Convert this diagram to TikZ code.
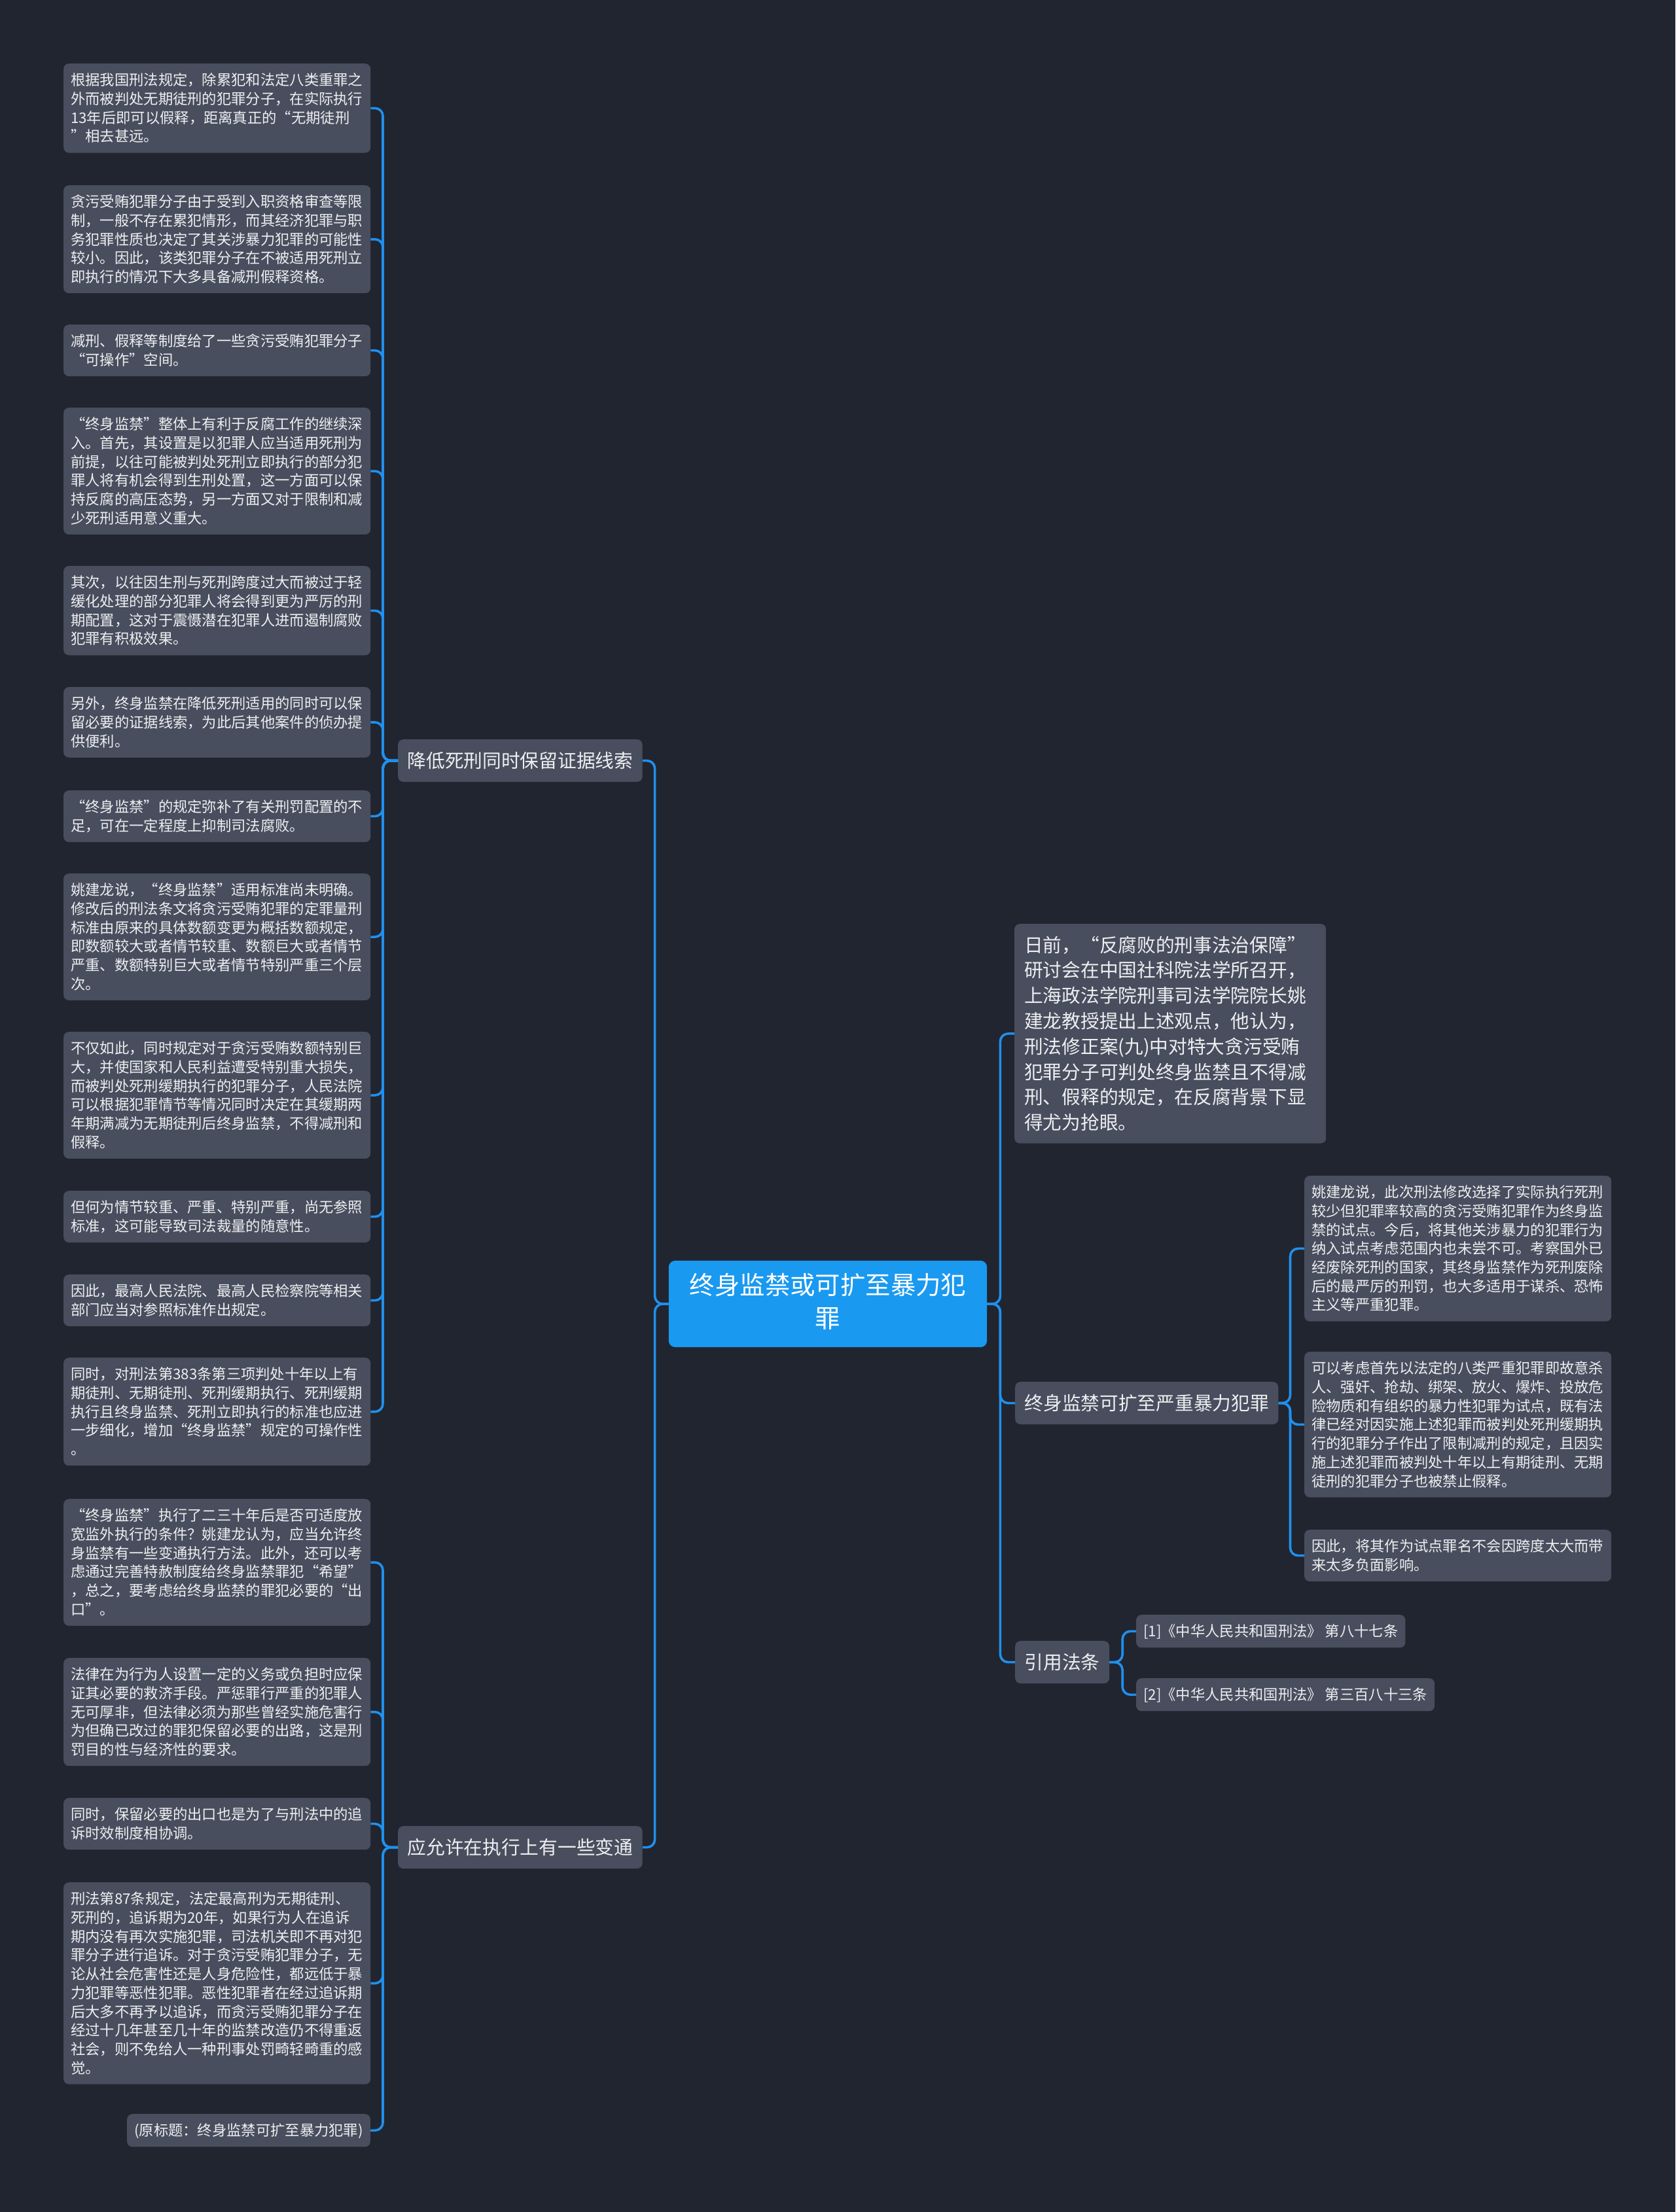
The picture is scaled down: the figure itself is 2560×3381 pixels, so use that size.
\documentclass[tikz,border=0pt]{standalone}
\usepackage{fontspec}
\setmainfont{Noto Sans CJK SC}
\usetikzlibrary{positioning}
\definecolor{bgc}{RGB}{33,37,48}
\definecolor{cardc}{RGB}{72,78,93}
\definecolor{linkc}{RGB}{32,144,236}
\definecolor{rootc}{RGB}{26,153,240}
\definecolor{txtc}{RGB}{238,239,242}
% strut centred on the CJK glyphs
\newcommand{\gstrut}{\rule[\dimexpr0.38em-0.5\baselineskip\relax]{0pt}{\baselineskip}}
\tikzset{
  card/.style={fill=cardc,rounded corners=8pt,text=txtc,align=left,
    font=\fontsize{22.3pt}{28.7pt}\selectfont,inner xsep=11pt,inner ysep=10.75pt,
    execute at begin node=\gstrut,execute at end node=\gstrut},
  leaf/.style={card,anchor=north west,text width=447pt},
  midbox/.style={card,anchor=north west,font=\fontsize{28.7pt}{38.8pt}\selectfont,
    inner xsep=14.5pt,inner ysep=13pt},
  rootbox/.style={fill=rootc,rounded corners=10pt,text=white,align=center,
    font=\fontsize{38.4pt}{51pt}\selectfont,inner xsep=32pt,inner ysep=19pt,
    execute at begin node=\gstrut,execute at end node=\gstrut},
  lnk/.style={draw=linkc,line width=3.6pt,rounded corners=12pt},
}
\begin{document}
\begin{tikzpicture}[x=1pt,y=-1pt]
  \useasboundingbox (0,0) rectangle (2560,3381);
  \fill[bgc] (0,0) rectangle (2560,3381);

  \node[rootbox] (root) at (1265,1993) {终身监禁或可扩至暴力犯\\罪};

  % left branches
  \node[midbox] (m1) at (608,1130) {降低死刑同时保留证据线索};
  \node[midbox] (m2) at (608,2791) {应允许在执行上有一些变通};

  \node[leaf] (l1) at (97,97) {根据我国刑法规定，除累犯和法定八类重罪之\\外而被判处无期徒刑的犯罪分子，在实际执行\\13年后即可以假释，距离真正的“无期徒刑\\”相去甚远。};
  \node[leaf] (l2) at (97,283) {贪污受贿犯罪分子由于受到入职资格审查等限\\制，一般不存在累犯情形，而其经济犯罪与职\\务犯罪性质也决定了其关涉暴力犯罪的可能性\\较小。因此，该类犯罪分子在不被适用死刑立\\即执行的情况下大多具备减刑假释资格。};
  \node[leaf] (l3) at (97,496) {减刑、假释等制度给了一些贪污受贿犯罪分子\\“可操作”空间。};
  \node[leaf] (l4) at (97,623) {“终身监禁”整体上有利于反腐工作的继续深\\入。首先，其设置是以犯罪人应当适用死刑为\\前提，以往可能被判处死刑立即执行的部分犯\\罪人将有机会得到生刑处置，这一方面可以保\\持反腐的高压态势，另一方面又对于限制和减\\少死刑适用意义重大。};
  \node[leaf] (l5) at (97,865) {其次，以往因生刑与死刑跨度过大而被过于轻\\缓化处理的部分犯罪人将会得到更为严厉的刑\\期配置，这对于震慑潜在犯罪人进而遏制腐败\\犯罪有积极效果。};
  \node[leaf] (l6) at (97,1050) {另外，终身监禁在降低死刑适用的同时可以保\\留必要的证据线索，为此后其他案件的侦办提\\供便利。};
  \node[leaf] (l7) at (97,1208) {“终身监禁”的规定弥补了有关刑罚配置的不\\足，可在一定程度上抑制司法腐败。};
  \node[leaf] (l8) at (97,1335) {姚建龙说，“终身监禁”适用标准尚未明确。\\修改后的刑法条文将贪污受贿犯罪的定罪量刑\\标准由原来的具体数额变更为概括数额规定，\\即数额较大或者情节较重、数额巨大或者情节\\严重、数额特别巨大或者情节特别严重三个层\\次。};
  \node[leaf] (l9) at (97,1577) {不仅如此，同时规定对于贪污受贿数额特别巨\\大，并使国家和人民利益遭受特别重大损失，\\而被判处死刑缓期执行的犯罪分子，人民法院\\可以根据犯罪情节等情况同时决定在其缓期两\\年期满减为无期徒刑后终身监禁，不得减刑和\\假释。};
  \node[leaf] (l10) at (97,1820) {但何为情节较重、严重、特别严重，尚无参照\\标准，这可能导致司法裁量的随意性。};
  \node[leaf] (l11) at (97,1948) {因此，最高人民法院、最高人民检察院等相关\\部门应当对参照标准作出规定。};
  \node[leaf] (l12) at (97,2075) {同时，对刑法第383条第三项判处十年以上有\\期徒刑、无期徒刑、死刑缓期执行、死刑缓期\\执行且终身监禁、死刑立即执行的标准也应进\\一步细化，增加“终身监禁”规定的可操作性\\。};
  \node[leaf] (l13) at (97,2291) {“终身监禁”执行了二三十年后是否可适度放\\宽监外执行的条件？姚建龙认为，应当允许终\\身监禁有一些变通执行方法。此外，还可以考\\虑通过完善特赦制度给终身监禁罪犯“希望”\\，总之，要考虑给终身监禁的罪犯必要的“出\\口”。};
  \node[leaf] (l14) at (97,2534) {法律在为行为人设置一定的义务或负担时应保\\证其必要的救济手段。严惩罪行严重的犯罪人\\无可厚非，但法律必须为那些曾经实施危害行\\为但确已改过的罪犯保留必要的出路，这是刑\\罚目的性与经济性的要求。};
  \node[leaf] (l15) at (97,2748) {同时，保留必要的出口也是为了与刑法中的追\\诉时效制度相协调。};
  \node[leaf] (l16) at (97,2877) {刑法第87条规定，法定最高刑为无期徒刑、\\死刑的，追诉期为20年，如果行为人在追诉\\期内没有再次实施犯罪，司法机关即不再对犯\\罪分子进行追诉。对于贪污受贿犯罪分子，无\\论从社会危害性还是人身危险性，都远低于暴\\力犯罪等恶性犯罪。恶性犯罪者在经过追诉期\\后大多不再予以追诉，而贪污受贿犯罪分子在\\经过十几年甚至几十年的监禁改造仍不得重返\\社会，则不免给人一种刑事处罚畸轻畸重的感\\觉。};
  \node[card,anchor=north east] (l17) at (566,3231) {(原标题：终身监禁可扩至暴力犯罪)};

  % right branches
  \node[midbox,text width=446pt,inner xsep=15pt,inner ysep=12.5pt] (top) at (1550,1412) {日前，“反腐败的刑事法治保障”\\研讨会在中国社科院法学所召开，\\上海政法学院刑事司法学院院长姚\\建龙教授提出上述观点，他认为，\\刑法修正案(九)中对特大贪污受贿\\犯罪分子可判处终身监禁且不得减\\刑、假释的规定，在反腐背景下显\\得尤为抢眼。};
  \node[midbox] (m3) at (1551,2112) {终身监禁可扩至严重暴力犯罪};
  \node[midbox] (m4) at (1551,2508) {引用法条};

  \node[leaf] (r1) at (1993,1797) {姚建龙说，此次刑法修改选择了实际执行死刑\\较少但犯罪率较高的贪污受贿犯罪作为终身监\\禁的试点。今后，将其他关涉暴力的犯罪行为\\纳入试点考虑范围内也未尝不可。考察国外已\\经废除死刑的国家，其终身监禁作为死刑废除\\后的最严厉的刑罚，也大多适用于谋杀、恐怖\\主义等严重犯罪。};
  \node[leaf] (r2) at (1993,2066) {可以考虑首先以法定的八类严重犯罪即故意杀\\人、强奸、抢劫、绑架、放火、爆炸、投放危\\险物质和有组织的暴力性犯罪为试点，既有法\\律已经对因实施上述犯罪而被判处死刑缓期执\\行的犯罪分子作出了限制减刑的规定，且因实\\施上述犯罪而被判处十年以上有期徒刑、无期\\徒刑的犯罪分子也被禁止假释。};
  \node[leaf] (r3) at (1993,2338) {因此，将其作为试点罪名不会因跨度太大而带\\来太多负面影响。};

  \node[card,anchor=north west] (c1) at (1736,2468) {[1]《中华人民共和国刑法》 第八十七条};
  \node[card,anchor=north west] (c2) at (1736,2565) {[2]《中华人民共和国刑法》 第三百八十三条};

  % connectors
  \foreach \n in {m1,m2}
    \draw[lnk] (root.west) -- ++(-21,0) |- (\n.east);
  \foreach \n in {top,m3,m4}
    \draw[lnk] (root.east) -- ++(20,0) |- (\n.west);
  \foreach \i in {1,...,12}
    \draw[lnk] (m1.west) -- ++(-23,0) |- (l\i.east);
  \foreach \i in {13,...,17}
    \draw[lnk] (m2.west) -- ++(-23,0) |- (l\i.east);
  \foreach \i in {1,2,3}
    \draw[lnk] (m3.east) -- ++(18,0) |- (r\i.west);
  \foreach \i in {1,2}
    \draw[lnk] (m4.east) -- ++(20,0) |- (c\i.west);
\end{tikzpicture}
\end{document}
